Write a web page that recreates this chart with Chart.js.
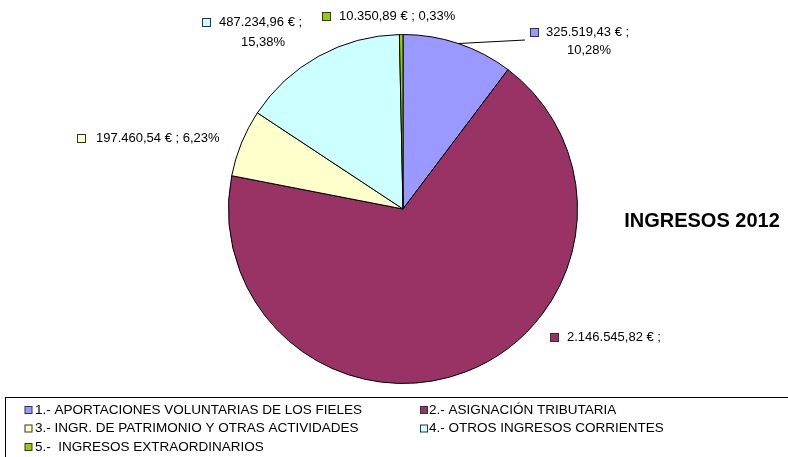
<!DOCTYPE html>
<html>
<head>
<meta charset="utf-8">
<script src="https://cdn.jsdelivr.net/npm/chart.js@4.4.0/dist/chart.umd.min.js"></script>
<style>
    html, body { margin: 0; padding: 0; background: #fff; }
    #wrap { width: 788px; height: 457px; position: relative; }
</style>
</head>
<body>
<div id="wrap"><canvas id="pie"></canvas></div>
<script>
// Datos
const categorias = [
    '1.- APORTACIONES VOLUNTARIAS DE LOS FIELES',
    '2.- ASIGNACIÓN TRIBUTARIA',
    '3.- INGR. DE PATRIMONIO Y OTRAS ACTIVIDADES',
    '4.- OTROS INGRESOS CORRIENTES',
    '5.-  INGRESOS EXTRAORDINARIOS'
];
const importes = [325519.43, 2146545.82, 197460.54, 487234.96, 10350.89];
const titulo = 'INGRESOS 2012';

const colores = ['#9999FF', '#993366', '#FFFFCC', '#CCFFFF', '#99CC00'];

// formato español
function euros(v) {
    const partes = v.toFixed(2).split('.');
    partes[0] = partes[0].replace(/\B(?=(\d{3})+(?!\d))/g, '.');
    return partes[0] + ',' + partes[1] + ' €';
}
function pct(v, total) {
    return (v / total * 100).toFixed(2).replace('.', ',') + '%';
}

// Colocación de las etiquetas (cuadro, texto, segunda línea)
const etiquetas = [
    { sx: 534, sy: 32, tx: 546, lines: (v, p) => [v + ' ;', p], l2x: 589, l2y: 50, leader: [525, 40] },
    { sx: 554, sy: 337, tx: 567, lines: (v, p) => [v + ' ;'] },
    { sx: 81, sy: 138, tx: 96, lines: (v, p) => [v + ' ; ' + p] },
    { sx: 206, sy: 22, tx: 219, lines: (v, p) => [v + ' ;', p], l2x: 263, l2y: 42 },
    { sx: 326, sy: 16, tx: 339, lines: (v, p) => [v + ' ; ' + p] }
];

const extras = {
    id: 'extras',
    afterDatasetsDraw(chart) {
        const ctx = chart.ctx;
        const meta = chart.getDatasetMeta(0);
        const vals = chart.data.datasets[0].data;
        const total = vals.reduce((a, b) => a + b, 0);
        ctx.save();
        ctx.font = '13px "Liberation Sans", Arial, sans-serif';
        ctx.textBaseline = 'middle';
        meta.data.forEach((arc, i) => {
            const e = etiquetas[i];
            const txt = e.lines(euros(vals[i]), pct(vals[i], total));
            // linea guia
            if (e.leader) {
                const a = (arc.startAngle + arc.endAngle) / 2;
                ctx.beginPath();
                ctx.strokeStyle = '#000';
                ctx.lineWidth = 1;
                ctx.moveTo(arc.x + Math.cos(a) * arc.outerRadius, arc.y + Math.sin(a) * arc.outerRadius);
                ctx.lineTo(e.leader[0], e.leader[1]);
                ctx.stroke();
            }
            ctx.fillStyle = colores[i];
            ctx.fillRect(e.sx - 4, e.sy - 4, 8, 8);
            ctx.strokeStyle = '#333';
            ctx.lineWidth = 1;
            ctx.strokeRect(e.sx - 3.5, e.sy - 3.5, 8, 8);
            ctx.fillStyle = '#000';
            ctx.textAlign = 'left';
            ctx.fillText(txt[0], e.tx, e.sy);
            if (txt[1]) {
                ctx.textAlign = 'center';
                ctx.fillText(txt[1], e.l2x, e.l2y);
            }
        });

        // titulo
        ctx.font = 'bold 20px "Liberation Sans", Arial, sans-serif';
        ctx.textAlign = 'center';
        ctx.fillStyle = '#000';
        ctx.fillText(titulo, 702, 221);

        // leyenda
        ctx.strokeStyle = '#000';
        ctx.lineWidth = 1;
        ctx.strokeRect(5.5, 397.5, 800, 80);
        ctx.font = '13.5px "Liberation Sans", Arial, sans-serif';
        ctx.textAlign = 'left';
        const colX = [28.5, 424];
        const gap = [6.5, 5];
        const filaY = [410, 428.5, 447];
        chart.data.labels.forEach((lab, i) => {
            const x = colX[i % 2];
            const y = filaY[Math.floor(i / 2)];
            ctx.fillStyle = colores[i];
            ctx.fillRect(x - 3.5, y - 3.5, 7, 7);
            ctx.strokeStyle = '#333';
            ctx.strokeRect(x - 3.5, y - 3.5, 7, 7);
            ctx.fillStyle = '#000';
            ctx.fillText(lab, x + gap[i % 2], y);
        });
        ctx.restore();
    }
};

new Chart(document.getElementById('pie'), {
    type: 'pie',
    data: {
        labels: categorias,
        datasets: [{
            data: importes,
            backgroundColor: colores,
            borderColor: '#000',
            borderWidth: 1
        }]
    },
    options: {
        responsive: true,
        maintainAspectRatio: false,
        animation: false,
        layout: { padding: { left: 228, right: 210, top: 34, bottom: 73 } },
        plugins: {
            legend: { display: false },
            tooltip: { enabled: false }
        }
    },
    plugins: [extras]
});
</script>
</body>
</html>
